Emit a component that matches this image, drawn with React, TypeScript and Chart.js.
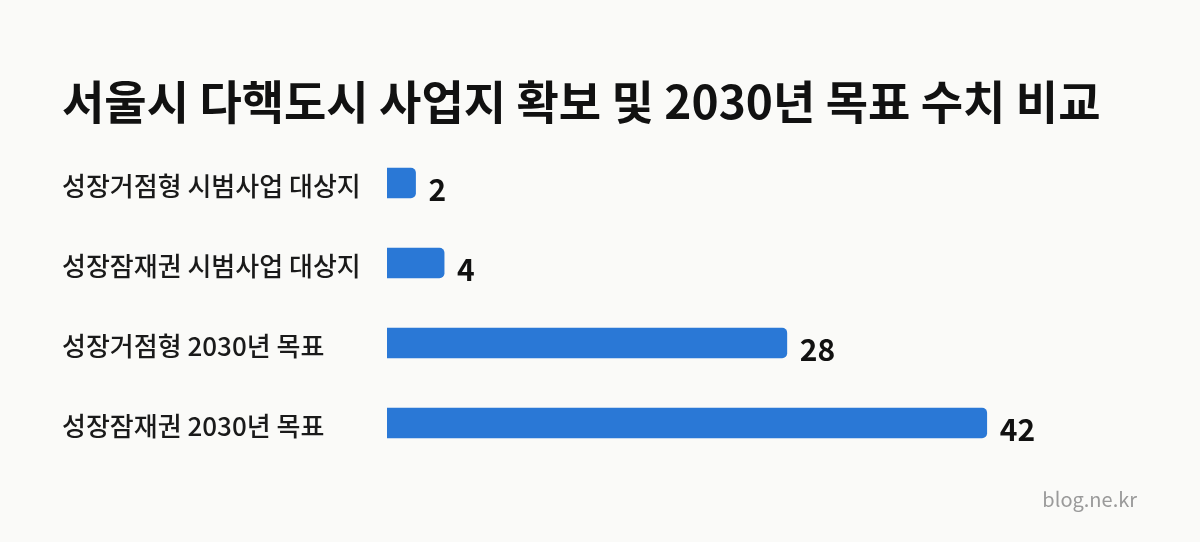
import React, { useEffect, useRef } from "react";
import { Chart, registerables } from "chart.js";

Chart.register(...registerables);

const TITLE = "서울시 다핵도시 사업지 확보 및 2030년 목표 수치 비교";
const CATEGORIES = [
  "성장거점형 시범사업 대상지",
  "성장잠재권 시범사업 대상지",
  "성장거점형 2030년 목표",
  "성장잠재권 2030년 목표",
];
const VALUES = [2, 4, 28, 42];
const WATERMARK = "blog.ne.kr";

const FONT = '"Noto Sans CJK KR", "Noto Sans", sans-serif';
const BAR_COLOR = "#2A78D6";
const BG = "#FAFAF8";

export default function App() {
  const ref = useRef<HTMLCanvasElement | null>(null);

  useEffect(() => {
    document.body.style.margin = "0";
    const canvas = ref.current;
    if (!canvas) return;

    const valueLabels = {
      id: "valueLabels",
      afterDatasetsDraw(chart: any) {
        const ctx = chart.ctx;
        const meta = chart.getDatasetMeta(0);
        ctx.save();
        ctx.font = `bold 30px ${FONT}`;
        ctx.fillStyle = "#111111";
        ctx.textAlign = "left";
        ctx.textBaseline = "alphabetic";
        meta.data.forEach((bar: any, i: number) => {
          ctx.fillText(String(VALUES[i]), bar.x + 13, bar.y + 17.5);
        });
        ctx.restore();
      },
    };

    const watermark = {
      id: "watermark",
      afterDraw(chart: any) {
        const ctx = chart.ctx;
        ctx.save();
        ctx.font = `20px ${FONT}`;
        ctx.fillStyle = "#9A9A9A";
        ctx.textAlign = "right";
        ctx.textBaseline = "alphabetic";
        ctx.fillText(WATERMARK, chart.width - 63, 507);
        ctx.restore();
      },
    };

    const bgPlugin = {
      id: "bg",
      beforeDraw(chart: any) {
        const ctx = chart.ctx;
        ctx.save();
        ctx.fillStyle = BG;
        ctx.fillRect(0, 0, chart.width, chart.height);
        ctx.restore();
      },
    };

    const chart = new Chart(canvas, {
      type: "bar",
      data: {
        labels: CATEGORIES,
        datasets: [
          {
            data: VALUES,
            backgroundColor: BAR_COLOR,
            borderRadius: 5,
            barThickness: 30,
          },
        ],
      },
      options: {
        indexAxis: "y",
        responsive: false,
        animation: false,
        devicePixelRatio: 1,
        layout: { padding: { left: 62, right: 99, top: 0, bottom: 79 } },
        plugins: {
          legend: { display: false },
          tooltip: { enabled: false },
          title: {
            display: true,
            text: TITLE,
            align: "start",
            color: "#111111",
            font: { family: FONT, size: 46, weight: "bold", lineHeight: 1.2 },
            padding: { top: 74, bottom: 13.8 },
          },
        },
        scales: {
          x: {
            display: false,
            min: 0,
            max: 50,
          },
          y: {
            grid: { display: false },
            border: { display: false },
            ticks: {
              crossAlign: "far",
              color: "#1A1A1A",
              font: { family: FONT, size: 26, weight: "500" },
              padding: 0,
              labelOffset: 3,
            },
            afterFit(scale: any) {
              scale.width = 325;
            },
          },
        },
      } as any,
      plugins: [bgPlugin, valueLabels, watermark],
    });

    return () => chart.destroy();
  }, []);

  return (
    <div style={{ width: 1200, height: 542, background: BG }}>
      <canvas ref={ref} width={1200} height={542} style={{ display: "block" }} />
    </div>
  );
}
